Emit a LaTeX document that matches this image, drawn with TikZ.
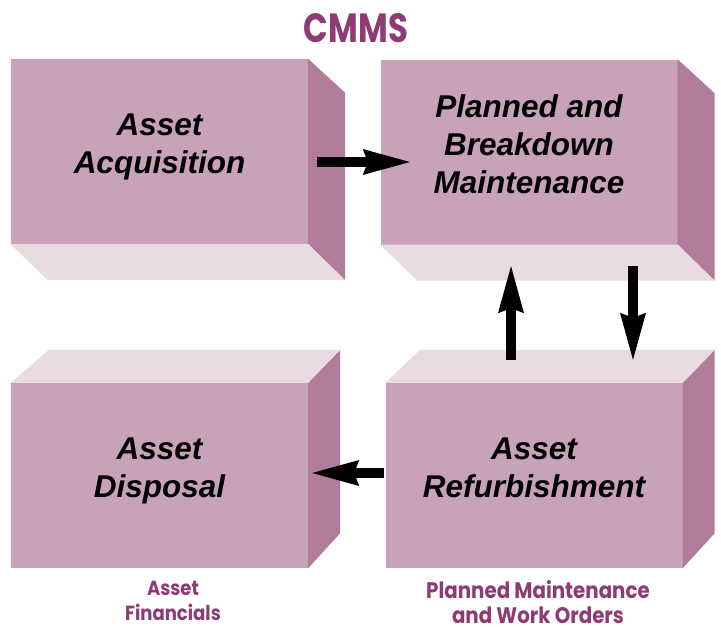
\documentclass[tikz,border=0pt]{standalone}
\usepackage{fontspec}
\usepackage{graphicx}
\setmainfont{Liberation Sans}
\newfontfamily\boxfont{Liberation Sans}
\newfontfamily\labelfont{Poppins}
\newfontfamily\captionfont{Poppins}[FakeStretch=0.88]
\usetikzlibrary{arrows.meta,calc}

\definecolor{frontcol}{RGB}{200,162,185}
\definecolor{sidecol}{RGB}{177,124,156}
\definecolor{lightcol}{RGB}{234,218,226}
\definecolor{plum}{RGB}{142,58,116}

\tikzset{
  front/.style={rectangle, fill=frontcol, inner sep=0pt,
    minimum width=297pt, minimum height=185pt, align=center,
    text depth=16pt, font=\boxfont\bfseries\itshape\fontsize{31.5}{38}\selectfont},
  sideface/.style={fill=sidecol},
  lightface/.style={fill=lightcol},
  bigarrow/.style={line width=10pt,
    -{Stealth[length=47pt, width=26pt, inset=5pt, line width=0pt]}},
  caption/.style={text=plum, align=center, text depth=0pt},
}

\begin{document}
\begin{tikzpicture}[x=1pt, y=-1pt]
  \useasboundingbox (0,0) rectangle (721,630);

  % title
  \node (title) at (356,28) {\textcolor{plum}{\resizebox{104pt}{29pt}{\labelfont\bfseries CMMS}}};

  % front faces
  \node[front] (acq)  at (159.5,151.5) {Asset\\Acquisition};
  \node[front] (pbm)  at (529,152)     {Planned and\\Breakdown\\Maintenance};
  \node[front] (disp) at (159.5,475.5) {Asset\\Disposal};
  \node[front] (ref)  at (534,475.5)   {Asset\\Refurbishment};

  % upper row: right side and underside
  \foreach \b in {acq,pbm}{
    \fill[sideface] (\b.north east) -- ++(37,34)
      -- ($(\b.south east)+(37,36)$) -- (\b.south east) -- cycle;
    \fill[lightface] (\b.south west) -- (\b.south east)
      -- ++(37,36) -- ($(\b.south west)+(37,36)$) -- cycle;
  }

  % lower row: right side and top
  \fill[sideface] (disp.north east) -- ++(32,-33)
    -- ($(disp.south east)+(32,-35)$) -- (disp.south east) -- cycle;
  \fill[lightface] (disp.north west) -- ++(38,-33)
    -- ($(disp.north east)+(32,-33)$) -- (disp.north east) -- cycle;
  \fill[sideface] (ref.north east) -- ++(32,-33)
    -- ($(ref.south east)+(32,-35)$) -- (ref.south east) -- cycle;
  \fill[lightface] (ref.north west) -- ++(35,-33)
    -- ($(ref.north east)+(32,-33)$) -- (ref.north east) -- cycle;

  % flow arrows
  \draw[bigarrow] ([xshift=9pt,yshift=-10.5pt]acq.east) -- ([xshift=29.5pt,yshift=-10pt]pbm.west);
  \draw[bigarrow] ([xshift=-23pt,yshift=23pt]ref.north) -- ([xshift=-18pt,yshift=-21.5pt]pbm.south);
  \draw[bigarrow] ([xshift=104pt,yshift=-21.5pt]pbm.south) -- ([xshift=99pt,yshift=23pt]ref.north);
  \draw[bigarrow] ([xshift=-1.5pt,yshift=2.5pt]ref.west) -- ([xshift=4pt,yshift=2.5pt]disp.east);

  % captions
  \node[caption, font=\captionfont\bfseries\fontsize{20.5}{25}\selectfont]
    (fin) at (173,600.5) {Asset\\Financials};
  \node[caption, font=\captionfont\bfseries\fontsize{22.5}{25}\selectfont]
    (wo)  at (538,601.5) {Planned Maintenance\\and Work Orders};
\end{tikzpicture}
\end{document}
